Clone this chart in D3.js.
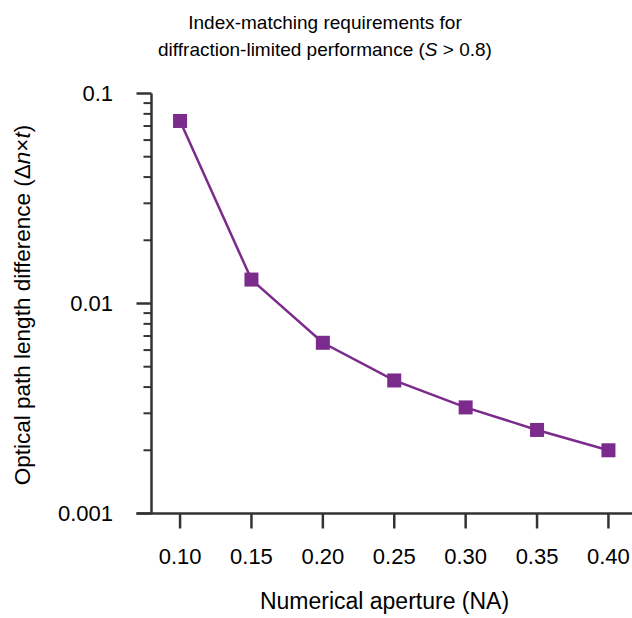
<!DOCTYPE html>
<html>
<head>
<meta charset="utf-8">
<script src="https://cdn.jsdelivr.net/npm/d3@7"></script>
<style>
  body { margin: 0; background: #fff; }
  svg { display: block; }
  text { font-family: "Liberation Sans", Arial, sans-serif; fill: #000; }
</style>
</head>
<body>
<svg id="chart" width="632" height="618"></svg>
<script>
// data
const apertures = [0.10, 0.15, 0.20, 0.25, 0.30, 0.35, 0.40];
const pathDiffs = [0.074, 0.013, 0.0065, 0.0043, 0.0032, 0.0025, 0.002];
const xTickValues = [0.10, 0.15, 0.20, 0.25, 0.30, 0.35, 0.40];
const yTickValues = [0.001, 0.01, 0.1];
const yTickLabels = ["0.001", "0.01", "0.1"];

const lineColor = "#7b2b8c";
const axisColor = "#333";

const svg = d3.select("#chart");
const plotLeft = 151.5, plotRight = 637, plotTop = 93.5, plotBottom = 513.5;

const x = d3.scaleLinear().domain([0.08, 0.42]).range([plotLeft, plotRight]);
const y = d3.scaleLog().domain([0.001, 0.1]).range([plotBottom, plotTop]);

// title
const title = svg.append("text")
  .attr("x", 325)
  .attr("text-anchor", "middle")
  .attr("font-size", 19);
title.append("tspan").attr("x", 325).attr("y", 29).text("Index-matching requirements for");
const line2 = title.append("tspan").attr("x", 325).attr("y", 56);
line2.append("tspan").text("diffraction-limited performance (");
line2.append("tspan").attr("font-style", "italic").text("S");
line2.append("tspan").text(" > 0.8)");

// minor ticks for the log axis
const minorTicks = [];
[0.001, 0.01].forEach(d => {
  for (let k = 2; k <= 9; k++) minorTicks.push(d * k);
});

const yAxisG = svg.append("g");
yAxisG.append("line")
  .attr("x1", plotLeft).attr("x2", plotLeft)
  .attr("y1", plotTop).attr("y2", plotBottom)
  .attr("stroke", axisColor).attr("stroke-width", 2.5);
yAxisG.selectAll(".major")
  .data(yTickValues)
  .join("line")
  .attr("x1", plotLeft - 15).attr("x2", plotLeft)
  .attr("y1", d => y(d)).attr("y2", d => y(d))
  .attr("stroke", axisColor).attr("stroke-width", 2.5);
yAxisG.selectAll(".minor")
  .data(minorTicks)
  .join("line")
  .attr("x1", plotLeft - 8).attr("x2", plotLeft)
  .attr("y1", d => y(d)).attr("y2", d => y(d))
  .attr("stroke", axisColor).attr("stroke-width", 2);
yAxisG.selectAll("text")
  .data(yTickValues)
  .join("text")
  .attr("x", 113)
  .attr("y", d => y(d))
  .attr("dy", "0.35em")
  .attr("text-anchor", "end")
  .attr("font-size", 22)
  .text((d, i) => yTickLabels[i]);

// x axis
const xAxisG = svg.append("g");
xAxisG.append("line")
  .attr("x1", plotLeft - 15).attr("x2", 632)
  .attr("y1", plotBottom).attr("y2", plotBottom)
  .attr("stroke", axisColor).attr("stroke-width", 2.5);
xAxisG.selectAll(".tick")
  .data(xTickValues)
  .join("line")
  .attr("x1", d => x(d)).attr("x2", d => x(d))
  .attr("y1", plotBottom).attr("y2", plotBottom + 15)
  .attr("stroke", axisColor).attr("stroke-width", 2.5);
xAxisG.selectAll("text")
  .data(xTickValues)
  .join("text")
  .attr("x", d => x(d))
  .attr("y", 556.5)
  .attr("dy", "0.35em")
  .attr("text-anchor", "middle")
  .attr("font-size", 22)
  .text(d3.format(".2f"));

// axis labels
svg.append("text")
  .attr("x", 384.5)
  .attr("y", 600.5)
  .attr("dy", "0.35em")
  .attr("text-anchor", "middle")
  .attr("font-size", 23)
  .text("Numerical aperture (NA)");

const yLabel = svg.append("text")
  .attr("transform", "translate(22,305) rotate(-90)")
  .attr("dy", "0.35em")
  .attr("text-anchor", "middle")
  .attr("font-size", 22.5);
yLabel.append("tspan").text("Optical path length difference (Δ");
yLabel.append("tspan").attr("font-style", "italic").text("n");
yLabel.append("tspan").text("×");
yLabel.append("tspan").attr("font-style", "italic").text("t");
yLabel.append("tspan").text(")");

// series
const points = apertures.map((a, i) => ({ a, v: pathDiffs[i] }));
svg.append("path")
  .datum(points)
  .attr("fill", "none")
  .attr("stroke", lineColor)
  .attr("stroke-width", 2.5)
  .attr("d", d3.line().x(d => x(d.a)).y(d => y(d.v)));

const size = 14;
svg.selectAll(".marker")
  .data(points)
  .join("rect")
  .attr("x", d => x(d.a) - size / 2)
  .attr("y", d => y(d.v) - size / 2)
  .attr("width", size)
  .attr("height", size)
  .attr("fill", lineColor);
</script>
</body>
</html>
